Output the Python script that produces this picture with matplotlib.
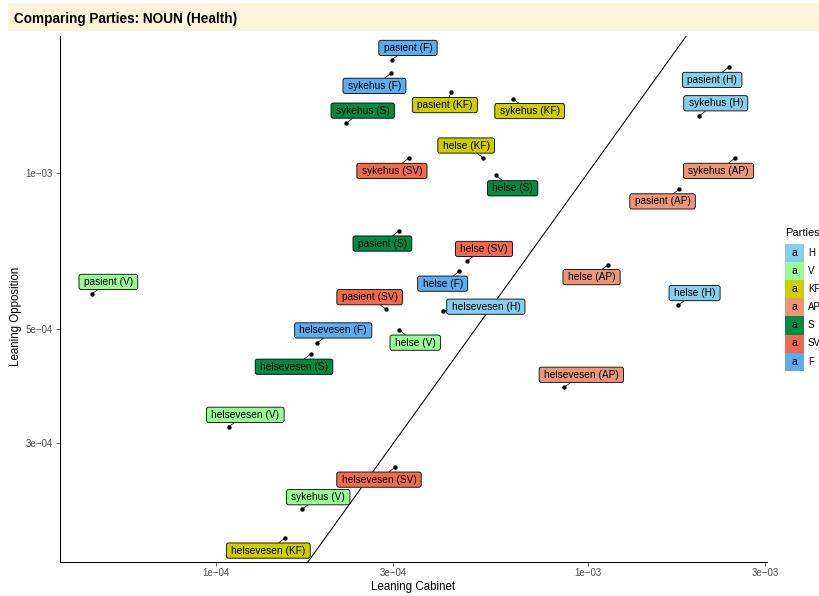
import matplotlib
matplotlib.use("Agg")
import matplotlib.pyplot as plt
from matplotlib.patches import Rectangle, BoxStyle
from matplotlib.ticker import FixedLocator, FixedFormatter, NullLocator
import numpy as np

W, H, DPI = 819, 596, 100
plt.rcParams['font.family'] = ['Liberation Sans', 'DejaVu Sans']

# ---- data -------------------------------------------------------------
words = ["pasient", "sykehus", "sykehus", "pasient", "sykehus", "pasient", "sykehus",
         "helse", "sykehus", "helse", "sykehus", "pasient", "pasient", "helse",
         "pasient", "helse", "helse", "pasient", "helsevesen", "helse",
         "helsevesen", "helse", "helsevesen", "helsevesen", "helsevesen",
         "helsevesen", "sykehus", "helsevesen"]
parties = ["F", "F", "S", "KF", "KF", "H", "H",
           "KF", "SV", "S", "AP", "AP", "S", "SV",
           "V", "AP", "F", "SV", "H", "H",
           "F", "V", "S", "AP", "V",
           "SV", "V", "KF"]
cabinet = [2.970e-4, 2.964e-4, 2.239e-4, 4.303e-4, 6.294e-4, 2.396e-3, 1.994e-3,
           5.227e-4, 3.299e-4, 5.664e-4, 2.496e-3, 1.765e-3, 3.114e-4, 4.744e-4,
           4.637e-5, 1.137e-3, 4.522e-4, 2.877e-4, 4.080e-4, 1.751e-3,
           1.871e-4, 3.108e-4, 1.798e-4, 8.663e-4, 1.085e-4,
           3.043e-4, 1.705e-4, 1.535e-4]
opposition = [1.656e-3, 1.562e-3, 1.248e-3, 1.434e-3, 1.393e-3, 1.603e-3, 1.290e-3,
              1.072e-3, 1.068e-3, 9.90e-4, 1.071e-3, 9.31e-4, 7.74e-4, 6.77e-4,
              5.835e-4, 6.65e-4, 6.457e-4, 5.45e-4, 5.419e-4, 5.549e-4,
              4.69e-4, 4.98e-4, 4.466e-4, 3.855e-4, 3.234e-4,
              2.702e-4, 2.236e-4, 1.968e-4]

party_order = ["H", "V", "KF", "AP", "S", "SV", "F"]
party_colors = {"H": "#87CEEB", "V": "#98FB98", "KF": "#CDCD00", "AP": "#E9967A",
                "S": "#008B45", "SV": "#EE6A50", "F": "#5CACEE"}

x_ticks = [1e-4, 3e-4, 1e-3, 3e-3]
x_tick_labels = ["1e\u221204", "3e\u221204", "1e\u221203", "3e\u221203"]
y_ticks = [3e-4, 5e-4, 1e-3]
y_tick_labels = ["3e\u221204", "5e\u221204", "1e\u221203"]

# repelled label placement: (right, down) offsets in pixels from each point
label_offsets = [(16.4, -12), (-16.8, 12.8), (16.8, -12.8), (-6.6, 12.9), (16.8, 12.3),
                 (-16.5, 12.7), (16.7, -12.7), (-16.7, -12), (-16.6, 12.5), (16.8, 12.9),
                 (-16.8, 13.1), (-16.8, 12.2), (-16.8, 12.9), (16.8, -11.8), (16.7, -12.2),
                 (-16.8, 12.4), (-16.8, 12.3), (-16.8, -12.2), (43, -4), (16.5, -12.3),
                 (16.3, -12.7), (16.3, 13), (-16.5, 12.6), (16.9, -12.4), (16.3, -11.8),
                 (-16.5, 12.7), (16.3, -12.2), (-16.7, 12.5)]


def fx(px):
    return px / W


def fy(py):
    return 1 - py / H


_round = BoxStyle.Round(pad=0, rounding_size=0.22)


def label_box(x0, y0, width, height, mutation_size):
    padx = 0.48 * mutation_size
    pady = 0.26 * mutation_size
    return _round(x0 - padx, y0 - pady, width + 2 * padx, height + 2 * pady, mutation_size)


fig = plt.figure(figsize=(W / DPI, H / DPI), dpi=DPI)
ax = fig.add_axes([fx(59.5), fy(562), fx(767.5) - fx(59.5), fy(36) - fy(562)])
ax.set_xscale("log")
ax.set_yscale("log")

# limits: data range expanded by 5% on the log scale
lx, ly = np.log10(cabinet), np.log10(opposition)
ex, ey = 0.05 * np.ptp(lx), 0.05 * np.ptp(ly)
ax.set_xlim(10 ** (lx.min() - ex), 10 ** (lx.max() + ex))
ax.set_ylim(10 ** (ly.min() - ey), 10 ** (ly.max() + ey))

# reference line: equal leaning
ax.axline((1e-4, 1e-4), (1e-3, 1e-3), color="black", lw=0.75, zorder=1)

ax.scatter(cabinet, opposition, s=10, color="black", zorder=3, linewidths=0)

for w, p, x, y, (dx, dy) in zip(words, parties, cabinet, opposition, label_offsets):
    ax.annotate(f"{w} ({p})", xy=(x, y), xytext=(dx, -dy), textcoords="offset pixels",
                ha="center", va="center", fontsize=7.25, color="black", zorder=4,
                bbox=dict(boxstyle=label_box, fc=party_colors[p], ec="black", lw=0.6),
                arrowprops=dict(arrowstyle="-", color="black", lw=0.5,
                                shrinkA=0, shrinkB=0))

# axes styling
for side in ("top", "right"):
    ax.spines[side].set_visible(False)
for side in ("left", "bottom"):
    ax.spines[side].set_linewidth(0.75)
    ax.spines[side].set_color("black")
ax.xaxis.set_major_locator(FixedLocator(x_ticks))
ax.xaxis.set_major_formatter(FixedFormatter(x_tick_labels))
ax.yaxis.set_major_locator(FixedLocator(y_ticks))
ax.yaxis.set_major_formatter(FixedFormatter(y_tick_labels))
ax.xaxis.set_minor_locator(NullLocator())
ax.yaxis.set_minor_locator(NullLocator())
ax.tick_params(axis="both", labelsize=7, labelcolor="#4D4D4D", color="#333333",
               length=3, width=0.5)
ax.tick_params(axis="x", pad=1.5)
ax.tick_params(axis="y", pad=2)

fig.text(fx(413.5), fy(587), "Leaning Cabinet", ha="center", va="center", fontsize=8.3)
fig.text(fx(16), fy(316), "Leaning Opposition", ha="center", va="center",
         rotation=90, fontsize=8.3)

# title strip
fig.patches.append(Rectangle((fx(8), fy(31)), 1.0, fy(3) - fy(31), transform=fig.transFigure,
                             facecolor="#FDF4DB", edgecolor="none", zorder=0))
fig.text(fx(14), fy(23.3), "Comparing Parties: NOUN (Health)", ha="left", va="baseline",
         fontsize=9.8, fontweight="bold")

# legend
fig.text(fx(785), fy(233), "Parties", ha="left", va="center", fontsize=8)
for i, p in enumerate(party_order):
    top = 244 + i * 18.1
    fig.patches.append(Rectangle((fx(785), fy(top + 18.1)), fx(804) - fx(785),
                                 fy(top) - fy(top + 18.1), transform=fig.transFigure,
                                 facecolor=party_colors[p], edgecolor="none"))
    fig.text(fx(794.5), fy(top + 9), "a", ha="center", va="center", fontsize=7.5)
    fig.text(fx(808), fy(top + 9), p, ha="left", va="center", fontsize=7)

fig.savefig("out.png", dpi=DPI)
